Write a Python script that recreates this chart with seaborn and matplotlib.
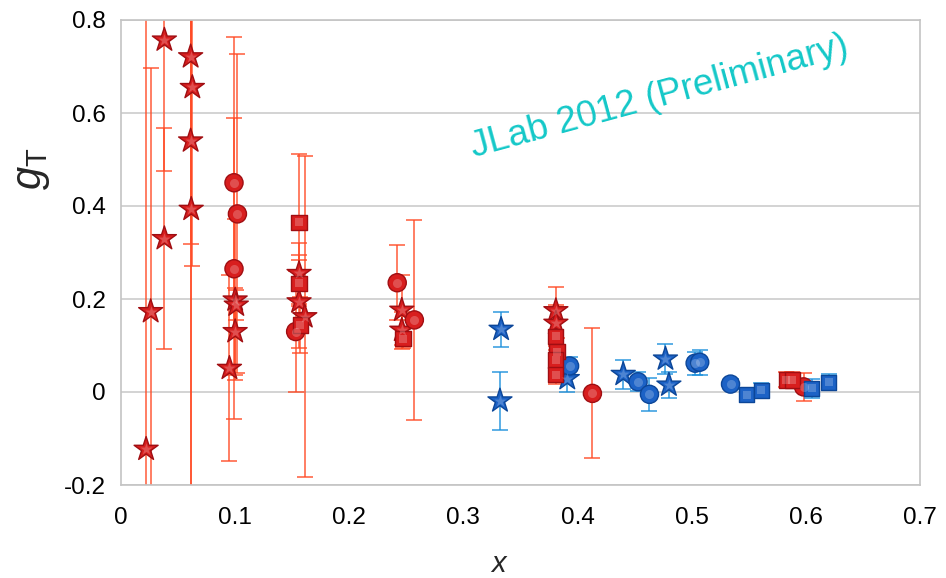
import numpy as np
import pandas as pd
import matplotlib
matplotlib.use("Agg")
import matplotlib.pyplot as plt
import seaborn as sns

# ---- data: x, g_T and symmetric uncertainty for each data set ----
red_star_x = [0.022, 0.026, 0.038, 0.038, 0.061, 0.0625, 0.061, 0.0615,
              0.100, 0.101, 0.100, 0.095, 0.156, 0.156, 0.161, 0.246, 0.246,
              0.381, 0.381]
red_star_y = [-0.123, 0.173, 0.757, 0.330, 0.721, 0.655, 0.540, 0.393,
              0.198, 0.187, 0.130, 0.051, 0.255, 0.194, 0.162, 0.176, 0.133,
              0.175, 0.148]
red_star_e = [1.000, 0.524, 0.282, 0.238, 0.403, 0.383, 0.800, 0.700,
              0.173, 0.032, 0.093, 0.200, 0.065, 0.100, 0.345, 0.075, 0.040,
              0.050, 0.040]

red_circ_x = [0.099, 0.102, 0.099, 0.153, 0.242, 0.257, 0.413, 0.598]
red_circ_y = [0.450, 0.383, 0.265, 0.130, 0.235, 0.155, -0.003, 0.011]
red_circ_e = [0.313, 0.343, 0.324, 0.130, 0.081, 0.215, 0.140, 0.030]

red_sq_x = [0.156, 0.156, 0.157, 0.247, 0.381, 0.382, 0.381, 0.381, 0.583, 0.588]
red_sq_y = [0.365, 0.234, 0.144, 0.115, 0.120, 0.087, 0.069, 0.037, 0.026, 0.026]
red_sq_e = [0.146, 0.050, 0.060, 0.020, 0.030, 0.030, 0.030, 0.020, 0.016, 0.016]

blue_star_x = [0.333, 0.332, 0.391, 0.440, 0.477, 0.480]
blue_star_y = [0.135, -0.019, 0.029, 0.038, 0.071, 0.015]
blue_star_e = [0.038, 0.063, 0.030, 0.031, 0.032, 0.027]

blue_circ_x = [0.393, 0.453, 0.463, 0.503, 0.507, 0.534]
blue_circ_y = [0.056, 0.022, -0.005, 0.062, 0.064, 0.017]
blue_circ_e = [0.020, 0.020, 0.036, 0.025, 0.027, 0.010]

blue_sq_x = [0.548, 0.561, 0.605, 0.620]
blue_sq_y = [-0.006, 0.004, 0.008, 0.021]
blue_sq_e = [0.010, 0.015, 0.020, 0.017]

x_ticks = [0, 0.1, 0.2, 0.3, 0.4, 0.5, 0.6, 0.7]
x_tick_labels = ["0", "0.1", "0.2", "0.3", "0.4", "0.5", "0.6", "0.7"]
y_ticks = [-0.2, 0, 0.2, 0.4, 0.6, 0.8]
y_tick_labels = ["-0.2", "0", "0.2", "0.4", "0.6", "0.8"]

def frame(xs, ys, es, color, shape):
    return pd.DataFrame({"x": xs, "g": ys, "err": es,
                         "color": color, "shape": shape})

df = pd.concat([
    frame(red_star_x, red_star_y, red_star_e, "red", "star"),
    frame(red_circ_x, red_circ_y, red_circ_e, "red", "circle"),
    frame(red_sq_x, red_sq_y, red_sq_e, "red", "square"),
    frame(blue_star_x, blue_star_y, blue_star_e, "blue", "star"),
    frame(blue_circ_x, blue_circ_y, blue_circ_e, "blue", "circle"),
    frame(blue_sq_x, blue_sq_y, blue_sq_e, "blue", "square"),
], ignore_index=True)

# ---- style ----
sns.set_theme(style="white")
plt.rcParams["font.family"] = ["Liberation Sans", "DejaVu Sans"]
plt.rcParams["mathtext.fontset"] = "custom"
plt.rcParams["mathtext.rm"] = "Liberation Sans"
plt.rcParams["mathtext.it"] = "Liberation Sans:italic"

fill = {"red": "#d81e1e", "blue": "#1c62c6"}
edge = {"red": "#a00e12", "blue": "#0c4698"}
bar_col = {"red": "#ff4a24", "blue": "#1a8fdc"}
markers = {"star": "*", "circle": "o", "square": "s"}
msize = {"star": 330, "circle": 170, "square": 120}

fig = plt.figure(figsize=(9.46, 5.78), dpi=100)
ax = fig.add_axes([121 / 946, 1 - 485 / 578, 799 / 946, 465 / 578])

# error bars underneath the markers
for c in ["red", "blue"]:
    sub = df[df["color"] == c]
    ax.errorbar(sub["x"], sub["g"], yerr=sub["err"], fmt="none",
                ecolor=bar_col[c], elinewidth=1.1, capsize=6,
                capthick=1.1, alpha=0.9, zorder=2)

for shp in ["star", "circle", "square"]:
    sub = df[df["shape"] == shp]
    sns.scatterplot(data=sub, x="x", y="g", hue="color", palette=fill,
                    marker=markers[shp], s=msize[shp],
                    edgecolor=[edge[c] for c in sub["color"]],
                    linewidth=1.0, legend=False, ax=ax, zorder=3)
    # small highlight for a glossy look
    sns.scatterplot(data=sub, x="x", y="g", color="white", alpha=0.22,
                    marker=markers[shp], s=msize[shp] * 0.25, linewidth=0,
                    legend=False, ax=ax, zorder=4)

ax.set_xlim(0, 0.7)
ax.set_ylim(-0.2, 0.8)
ax.set_xticks(x_ticks)
ax.set_xticklabels(x_tick_labels)
ax.set_yticks(y_ticks)
ax.set_yticklabels(y_tick_labels)
ax.tick_params(axis="both", labelsize=17.5, colors="#b4b4b4", labelcolor="black",
               length=6, width=1.2, direction="out", pad=5)
ax.tick_params(axis="x", pad=10)

ax.grid(axis="y", color="#cccccc", linewidth=1.2)
ax.grid(axis="x", visible=False)
for sp in ax.spines.values():
    sp.set_color("#c4c4c4")
    sp.set_linewidth(1.2)

ax.set_xlabel(r"$\mathit{x}$", fontsize=21)
ax.xaxis.set_label_coords(0.474, -0.14)
ax.set_ylabel(r"$\mathit{g}_{\mathrm{T}}$", fontsize=30, rotation=90)
ax.yaxis.set_label_coords(-0.086, 0.68)

ax.text(0.309, 0.505, "JLab 2012 (Preliminary)", color="#14c8c8",
        fontsize=26.5, rotation=15.2, rotation_mode="anchor",
        ha="left", va="baseline", zorder=5)

fig.savefig("out.png", dpi=100)
